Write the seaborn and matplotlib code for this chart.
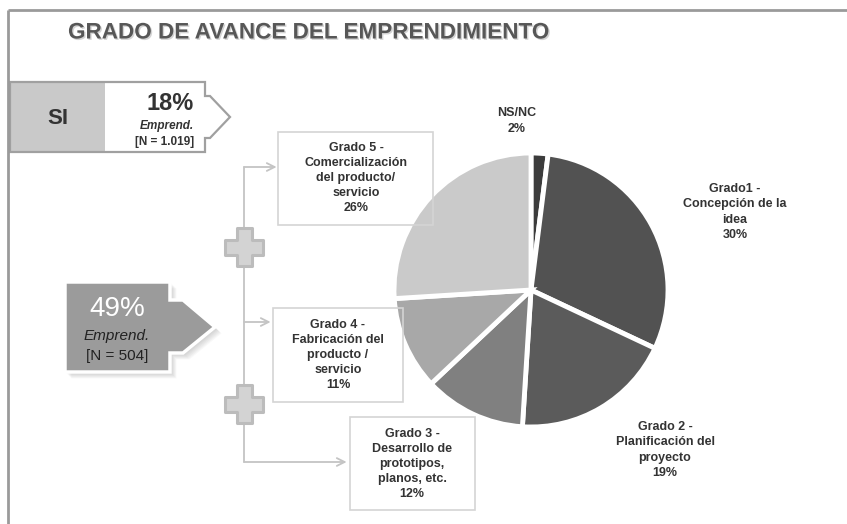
import matplotlib
matplotlib.use("Agg")
import matplotlib.pyplot as plt
import matplotlib.patheffects as pe
from matplotlib.patches import Polygon, Rectangle
import seaborn as sns

# Data
categories = ["NS/NC", "Grado1 - Concepción de la idea", "Grado 2 - Planificación del proyecto",
              "Grado 3 - Desarrollo de prototipos, planos, etc.",
              "Grado 4 - Fabricación del producto / servicio",
              "Grado 5 - Comercialización del producto/ servicio"]
shares = [2, 30, 19, 12, 11, 26]
slice_colors = ["#3c3c3c", "#525252", "#5b5b5b", "#808080", "#a8a8a8", "#cacaca"]

si_share = 18
si_n = "1.019"
adv_share = 49
adv_n = "504"

sns.set_theme(style="white")
plt.rcParams["font.family"] = ["Liberation Sans", "DejaVu Sans"]

W, H = 847, 524
fig = plt.figure(figsize=(W / 100, H / 100), dpi=100)
ax = fig.add_axes([0, 0, 1, 1])


def Y(y):
    return H - y


# pie
wedges, _ = ax.pie(shares, colors=slice_colors, startangle=90, counterclock=False,
                   center=(531, Y(290)), radius=137, frame=False,
                   wedgeprops=dict(edgecolor="white", linewidth=3.5))
ax.set_xlim(0, W)
ax.set_ylim(0, H)
ax.set_aspect("equal")
ax.axis("off")

# outer frame
ax.plot([8, W], [Y(10), Y(10)], color="#9a9a9a", lw=2, solid_capstyle="butt")
ax.plot([8, 8], [Y(10), Y(H)], color="#9a9a9a", lw=2, solid_capstyle="butt")

# title
ax.text(68, Y(33), "GRADO DE AVANCE DEL EMPRENDIMIENTO", fontsize=16.2, fontweight="bold",
        color="#575757", ha="left", va="center",
        path_effects=[pe.withSimplePatchShadow(offset=(1, -1), shadow_rgbFace="#aaaaaa", alpha=0.5)])

# SI box
ax.add_patch(Rectangle((10, Y(152)), 95, 70, facecolor="#c9c9c9", edgecolor="none"))
ax.add_patch(Polygon([(10, Y(82)), (205, Y(82)), (205, Y(96)), (210, Y(96)), (230, Y(117)),
                      (210, Y(138)), (205, Y(138)), (205, Y(152)), (10, Y(152))],
                     closed=True, facecolor="none", edgecolor="#a0a0a0", lw=1.6))
ax.text(58, Y(118), "SI", fontsize=16, fontweight="bold", color="#333333", ha="center", va="center")
ax.text(194, Y(103), f"{si_share}%", fontsize=17, fontweight="bold", color="#333333",
        ha="right", va="center")
ax.text(194, Y(126), "Emprend.", fontsize=8.5, fontweight="bold", style="italic", color="#333333",
        ha="right", va="center")
ax.text(194, Y(142), f"[N = {si_n}]", fontsize=8.5, fontweight="bold", color="#333333",
        ha="right", va="center")

# 49% arrow box with a soft drop shadow
adv_pts = [(65, 282), (170, 282), (170, 300), (183, 300), (215, 327),
           (183, 353), (170, 353), (170, 372), (65, 372)]
for k in range(1, 9):
    ax.add_patch(Polygon([(x + k * 0.8, Y(y + k * 0.8)) for x, y in adv_pts], closed=True,
                         facecolor="#7a7a7a", edgecolor="none", alpha=0.05))
ax.add_patch(Polygon([(x, Y(y)) for x, y in adv_pts], closed=True,
                     facecolor="#9b9b9b", edgecolor="white", lw=2.5))
ax.text(117, Y(309), f"{adv_share}%", fontsize=20, color="white", ha="center", va="center")
ax.text(117, Y(336), "Emprend.", fontsize=11, style="italic", color="#222222",
        ha="center", va="center")
ax.text(117, Y(356), f"[N = {adv_n}]", fontsize=11, color="#222222", ha="center", va="center")

# connector tree
line_c = "#c4c4c4"
ax.plot([244, 244], [Y(167), Y(462)], color=line_c, lw=1.3)
for yb, xe in [(167, 278), (322, 272), (462, 348)]:
    ax.annotate("", xy=(xe, Y(yb)), xytext=(244, Y(yb)),
                arrowprops=dict(arrowstyle="->", color=line_c, lw=1.3,
                                mutation_scale=14, shrinkA=0, shrinkB=1))


def plus(cx, cy, size=38, arm=15):
    h = size / 2
    a = arm / 2
    pts = [(cx - a, cy + h), (cx + a, cy + h), (cx + a, cy + a), (cx + h, cy + a),
           (cx + h, cy - a), (cx + a, cy - a), (cx + a, cy - h), (cx - a, cy - h),
           (cx - a, cy - a), (cx - h, cy - a), (cx - h, cy + a), (cx - a, cy + a)]
    ax.add_patch(Polygon(pts, closed=True, facecolor="#d3d3d3", edgecolor="#bcbcbc", lw=2.2,
                         joinstyle="round", zorder=3))


plus(244, Y(247))
plus(244, Y(404))

# label boxes
box_c = "#d4d4d4"
for x0, y0, x1, y1 in [(278, 132, 433, 225), (273, 308, 403, 402), (350, 417, 475, 510)]:
    ax.add_patch(Rectangle((x0, Y(y1)), x1 - x0, y1 - y0, facecolor="none",
                           edgecolor=box_c, lw=1.2, zorder=4))

lab = dict(fontsize=9, fontweight="bold", color="#333333", ha="center", va="center",
           linespacing=1.35, zorder=5)
ax.text(356, Y(178), f"Grado 5 -\nComercialización\ndel producto/\nservicio\n{shares[5]}%", **lab)
ax.text(338, Y(355), f"Grado 4 -\nFabricación del\nproducto /\nservicio\n{shares[4]}%", **lab)
ax.text(412, Y(464), f"Grado 3 -\nDesarrollo de\nprototipos,\nplanos, etc.\n{shares[3]}%", **lab)
ax.text(517, Y(121), f"NS/NC\n{shares[0]}%", **lab)
ax.text(735, Y(212), f"Grado1 -\nConcepción de la\nidea\n{shares[1]}%", **lab)
ax.text(665, Y(450), f"Grado 2 -\nPlanificación del\nproyecto\n{shares[2]}%", **lab)

fig.savefig("out.png", dpi=100, facecolor="white")
